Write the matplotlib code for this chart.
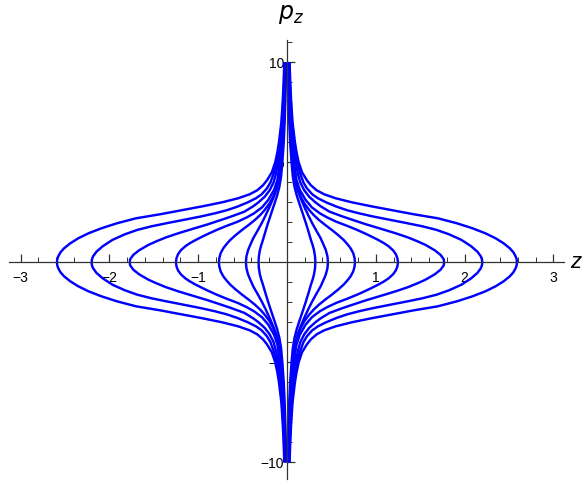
import numpy as np
import matplotlib
matplotlib.use("Agg")
from matplotlib import pyplot as plt
from matplotlib.ticker import MultipleLocator, FixedLocator

# upper-right quadrant of each trajectory (z, p_z)
# the plot is symmetric in z -> -z and p_z -> -p_z
p_c1 = [0, 0.3, 0.6, 0.85, 1.12, 1.5, 1.95, 2.45, 2.95, 3.35, 3.78, 4.3, 5, 6, 7, 8, 9, 10]
z_c1 = [0.32, 0.316, 0.305, 0.29, 0.27, 0.245, 0.214, 0.177, 0.139, 0.11, 0.085, 0.066, 0.052, 0.036, 0.026, 0.019, 0.014, 0.011]

p_c2 = [0, 0.3, 0.62, 0.9, 1.2, 1.55, 1.95, 2.35, 2.78, 3.2, 3.62, 4.3, 5, 6, 7, 8, 9, 10]
z_c2 = [0.462, 0.456, 0.437, 0.41, 0.38, 0.335, 0.285, 0.24, 0.195, 0.155, 0.12, 0.088, 0.067, 0.046, 0.033, 0.024, 0.018, 0.014]

p_c3 = [0, 0.2, 0.45, 0.7, 0.9, 1.11, 1.35, 1.62, 1.87, 2.12, 2.37, 2.62, 2.95, 3.28, 3.6, 3.95, 4.5, 5, 6, 7, 8, 9, 10]
z_c3 = [0.766, 0.762, 0.747, 0.717, 0.682, 0.64, 0.58, 0.505, 0.43, 0.36, 0.30, 0.25, 0.195, 0.155, 0.125, 0.10, 0.082, 0.072, 0.052, 0.038, 0.028, 0.021, 0.017]

p_c4 = [0, 0.2, 0.4, 0.6, 0.8, 0.95, 1.1, 1.28, 1.45, 1.62, 1.82, 2.03, 2.25, 2.45, 2.75, 3.12, 3.62, 4.11, 4.5, 5, 6, 7, 8, 9, 10]
z_c4 = [1.25, 1.244, 1.227, 1.195, 1.145, 1.095, 1.035, 0.955, 0.875, 0.79, 0.68, 0.555, 0.45, 0.37, 0.28, 0.21, 0.145, 0.108, 0.095, 0.082, 0.059, 0.043, 0.032, 0.025, 0.02]

p_c5 = [0, 0.15, 0.37, 0.6, 0.87, 1.05, 1.24, 1.45, 1.7, 1.9, 2.12, 2.3, 2.53, 2.8, 3.0, 3.28, 3.6, 4.0, 4.5, 5, 5.5, 6, 7, 8, 9, 10]
z_c5 = [1.77, 1.766, 1.73, 1.665, 1.56, 1.47, 1.365, 1.225, 1.04, 0.89, 0.74, 0.62, 0.48, 0.38, 0.32, 0.25, 0.195, 0.15, 0.12, 0.1, 0.084, 0.07, 0.05, 0.038, 0.029, 0.023]

p_c6 = [0, 0.15, 0.3, 0.53, 0.8, 1.12, 1.4, 1.62, 1.8, 1.95, 2.15, 2.3, 2.45, 2.6, 2.78, 3.0, 3.2, 3.4, 3.7, 4.0, 4.5, 5, 5.5, 6, 7, 8, 9, 10]
z_c6 = [2.20, 2.196, 2.183, 2.145, 2.075, 1.965, 1.825, 1.685, 1.525, 1.36, 1.13, 0.96, 0.81, 0.68, 0.56, 0.44, 0.35, 0.285, 0.225, 0.185, 0.145, 0.118, 0.097, 0.08, 0.057, 0.043, 0.033, 0.027]

p_c7 = [0, 0.15, 0.3, 0.5, 0.7, 0.95, 1.2, 1.45, 1.7, 1.95, 2.2, 2.4, 2.6, 2.8, 3.0, 3.2, 3.4, 3.6, 3.85, 4.1, 4.5, 5, 5.5, 6, 7, 8, 9, 10]
z_c7 = [2.59, 2.587, 2.575, 2.55, 2.51, 2.44, 2.35, 2.235, 2.09, 1.915, 1.70, 1.43, 1.19, 0.95, 0.73, 0.55, 0.42, 0.335, 0.27, 0.225, 0.17, 0.132, 0.108, 0.09, 0.063, 0.048, 0.037, 0.03]

curves = [(z_c1, p_c1), (z_c2, p_c2), (z_c3, p_c3), (z_c4, p_c4),
          (z_c5, p_c5), (z_c6, p_c6), (z_c7, p_c7)]

x_major = [-3, -2, -1, 1, 2, 3]
x_labels = ["\u22123", "\u22122", "\u22121", "1", "2", "3"]
y_major = [-10, -5, 5, 10]
y_labels = ["\u221210", "\u22125", "5", "10"]

plt.rcParams['font.family'] = ['Liberation Sans', 'DejaVu Sans']

fig = plt.figure(figsize=(5.84, 4.82), dpi=100)
ax = fig.add_axes([9/584, 2.7/482, 555/584, 439/482])

for z, p in curves:
    z = np.array(z)
    p = np.array(p)
    # right half: from p=-10 up to p=10
    zr = np.concatenate([z[::-1], z[1:]])
    pr = np.concatenate([-p[::-1], p[1:]])
    ax.plot(zr, pr, color=(0, 0, 1), lw=1.75, solid_capstyle='butt',
            solid_joinstyle='round')
    ax.plot(-zr, pr, color=(0, 0, 1), lw=1.75, solid_capstyle='butt',
            solid_joinstyle='round')

ax.set_xlim(-3.13, 3.12)
ax.set_ylim(-10.85, 11.1)

for s in ['top', 'right']:
    ax.spines[s].set_visible(False)
ax.spines['left'].set_position('zero')
ax.spines['bottom'].set_position('zero')
for s in ['left', 'bottom']:
    ax.spines[s].set_color('#333333')
    ax.spines[s].set_linewidth(0.9)

ax.xaxis.set_major_locator(FixedLocator(x_major))
ax.set_xticklabels(x_labels)
ax.xaxis.set_minor_locator(MultipleLocator(0.2))
ax.yaxis.set_major_locator(FixedLocator(y_major))
ax.set_yticklabels(y_labels)
ax.yaxis.set_minor_locator(MultipleLocator(1))

ax.tick_params(which='both', direction='in', color='#333333', labelsize=10)
ax.tick_params(which='major', length=6, width=0.9)
ax.tick_params(which='minor', length=3.5, width=0.7)
ax.tick_params(axis='x', pad=6)
ax.tick_params(axis='y', pad=2)

ax.text(3.25, 0, "z", fontsize=16, style='italic', va='center', ha='center',
        clip_on=False)
ax.text(0.05, 12.4, "$p_z$", fontsize=17, va='center', ha='center',
        clip_on=False, math_fontfamily='dejavusans')

fig.savefig("out.png", dpi=100)
